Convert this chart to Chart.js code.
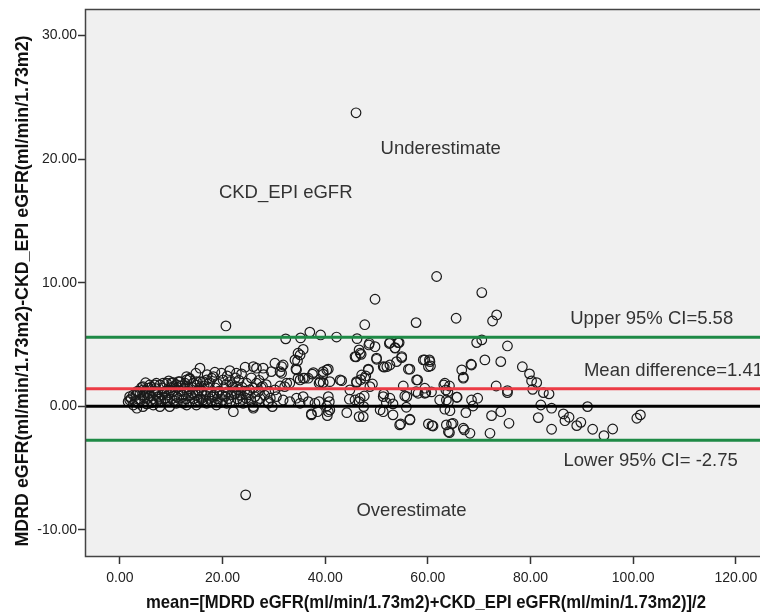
<!DOCTYPE html>
<html>
<head>
<meta charset="utf-8">
<script src="https://cdn.jsdelivr.net/npm/chart.js@4.4.1/dist/chart.umd.min.js"></script>
<style>
  html, body { margin: 0; padding: 0; background: #fff; }
  #chart { display: block; }
</style>
</head>
<body>
<canvas id="chart" width="760" height="614"></canvas>
<script>
// axis ticks
const xTicks = [0, 20, 40, 60, 80, 100, 120];
const yTicks = [-10, 0, 10, 20, 30];

const xTitle = "mean=[MDRD eGFR(ml/min/1.73m2)+CKD_EPI eGFR(ml/min/1.73m2)]/2";
const yTitle = "MDRD eGFR(ml/min/1.73m2)-CKD_EPI eGFR(ml/min/1.73m2)";

// limits of agreement
const upperLimit = 5.58;
const meanDifference = 1.41;
const zeroLine = 0;
const lowerLimit = -2.75;

// [mean, difference]
const clusterPoints = [
  [1.6,0.37],[1.9,0.78],[1.9,0.51],[2.6,0.91],[2.6,0.10],[2.2,0.62],[3.1,0.88],[3.3,1.18],[3.3,-0.16],[3.6,0.24],
  [3.5,1.22],[3.9,1.10],[3.9,0.58],[4.0,0.45],[4.2,1.52],[4.5,1.32],[4.5,1.59],[4.5,-0.03],[4.6,0.92],[5.0,1.20],
  [5.0,1.90],[5.2,0.19],[5.4,0.63],[5.5,1.46],[5.8,1.72],[5.9,0.86],[6.0,0.45],[6.1,1.55],[6.5,0.10],[6.5,0.61],
  [6.6,1.24],[6.8,1.72],[7.0,0.95],[7.1,0.37],[7.1,1.86],[7.4,1.16],[7.7,0.58],[7.8,1.72],[7.8,-0.03],[8.0,0.42],
  [8.2,0.90],[8.3,1.48],[8.4,1.86],[8.8,0.66],[8.9,1.22],[9.1,1.86],[9.1,0.37],[9.5,0.93],[9.5,2.05],[9.7,-0.03],
  [9.8,1.50],[10.1,0.60],[10.1,1.91],[10.3,1.18],[10.4,1.91],[10.6,0.46],[10.8,0.88],[11.0,0.24],[11.0,1.75],[11.2,1.52],
  [11.4,1.99],[11.5,0.64],[11.7,1.99],[11.8,1.25],[12.2,0.92],[12.2,0.44],[12.5,1.48],[12.7,1.86],[12.9,0.60],[13.0,2.13],
  [13.0,2.40],[13.0,0.10],[13.1,1.20],[13.6,2.27],[13.6,0.37],[13.6,2.19],[13.8,0.90],[14.0,1.54],[14.3,1.86],[14.4,0.62],
  [14.6,1.18],[14.8,2.67],[14.9,1.99],[14.9,0.10],[15.0,1.70],[15.1,0.94],[15.4,0.46],[15.5,1.50],[15.6,3.08],[15.6,1.99],
  [15.8,0.60],[16.0,1.22],[16.2,0.51],[16.2,1.99],[16.7,0.88],[16.9,2.13],[16.9,0.24],[17.2,1.52],[17.4,0.64],[17.7,1.16],
  [17.8,0.42],[17.9,2.27],[18.2,2.40],[18.3,0.92],[18.6,1.48],[18.8,0.37],[18.8,0.10],[19.0,1.85],[19.0,0.60],[19.3,1.22],
  [19.8,2.67],[19.9,0.90],[20.0,0.46],[20.1,2.13],[20.3,1.50],[20.8,0.24],[21.0,1.18],[21.2,0.62],[21.4,1.99],[21.4,2.88],
  [21.8,0.94],[21.9,1.75],[22.0,1.52],[22.1,-0.44],[22.6,1.20],[22.7,1.59],[22.7,2.67],[22.9,0.60],[23.2,2.10],[23.4,0.37],
  [23.5,0.88],[23.7,2.62],[23.8,1.54],[24.0,0.24],[24.3,1.22],[24.4,3.16],[24.6,0.64],[24.7,1.86],[25.0,0.92],[25.3,1.32],
  [25.5,0.46],[25.9,1.48],[26.0,3.21],[26.0,-0.03],[26.0,-0.16],[26.3,0.78],[26.6,1.86],[26.6,3.08],[27.0,1.20],[27.3,0.62],
  [27.5,1.52],[27.8,1.60],[27.9,3.08],[28.2,0.90],[28.9,0.37],[28.9,0.24],[29.0,1.20],[29.5,2.80],[29.7,-0.03],
  [3.0,0.40],[4.8,0.70],[5.6,1.05],[6.3,0.30],[6.9,1.45],[7.5,0.80],[8.6,1.10],[9.3,0.55],[9.9,1.30],[10.5,1.60],
  [11.1,0.75],[11.9,1.65],[12.4,0.25],[13.3,1.40],[14.2,1.05],[14.7,0.35],[15.3,1.25],[16.4,1.65],[16.8,0.45],[17.5,1.90],
  [18.0,0.75],[18.9,1.05],[19.6,0.30],[20.5,0.80],[20.7,1.75],[21.6,0.40],[22.3,1.00],[23.0,1.35],[23.9,0.55],[24.8,1.05],
  [25.6,2.30],[26.8,0.45],[27.1,2.10],[28.0,2.55],[28.5,1.75],[29.3,0.65],[22.5,2.30],[20.9,2.45],[18.5,2.75],[17.0,2.55]
];

const midPoints = [
  [30.2,1.32],[30.2,3.48],[30.5,0.78],[31.2,1.64],[31.2,2.80],[31.5,3.21],[31.5,2.67],[31.8,0.51],[31.8,3.34],[32.1,1.59],
  [32.3,5.45],[32.5,1.86],[33.1,1.86],[33.1,0.37],[34.1,3.75],[34.3,3.02],[34.4,0.65],[34.4,2.94],[34.6,3.67],[34.7,2.27],
  [34.7,4.29],[35.1,4.15],[35.1,0.24],[35.1,2.13],[35.2,5.53],[35.7,4.60],[35.7,2.27],[35.7,0.78],[36.0,2.27],[36.7,2.27],
  [36.7,0.37],[37.0,6.00],[37.3,-0.62],[37.3,-0.70],[37.5,2.60],[37.7,2.72],[38.0,0.24],[38.5,-0.44],[38.8,1.86],[38.8,0.37],
  [39.0,1.99],[39.1,5.77],[39.6,1.91],[39.6,2.60],[39.6,2.80],[40.3,2.94],[40.3,0.02],[40.4,-0.76],[40.6,0.78],[40.6,3.00],
  [40.6,-0.44],[40.8,0.37],[40.9,1.99],[40.9,-0.30],[42.2,5.60],[42.9,2.13],[43.2,2.07],[44.2,-0.52],[44.7,0.57],[44.8,1.32],
  [45.8,4.02],[45.8,0.51],[46.0,4.00],[46.1,1.91],[46.1,1.99],[46.2,5.47],[46.6,4.56],[46.6,0.37],[46.6,-0.84],[46.8,4.29],
  [46.8,0.65],[46.9,2.15],[47.0,4.20],[47.1,2.53],[47.4,-0.84],[47.5,-0.03],[47.6,0.83],[47.7,6.60],[47.7,2.27],[47.9,2.45],
  [48.4,3.00],[48.4,2.94],[48.5,4.96],[48.6,5.10],[48.7,1.59],[49.2,1.80],[49.7,8.66],[49.7,4.82],[50.0,3.80],[50.0,3.89],
  [50.7,-0.30],[51.3,3.21],[51.3,-0.44],[51.3,0.78],[51.4,1.00],[51.5,3.16],[51.9,0.29],[52.0,3.20],[52.5,5.08],[52.6,3.34],
  [52.6,5.15],[52.6,0.65],[53.2,0.19],[53.2,-0.70],[53.6,4.74],[53.6,4.70],[53.9,3.61],[54.2,5.15],[54.4,5.15],[54.5,-1.51],
  [54.7,-1.43],[54.9,3.93],[54.9,4.02],[55.2,1.64],[55.5,0.83],[55.8,-0.08],[55.9,0.78],[56.2,3.00],[56.5,3.00],[56.5,-1.11],
  [56.5,-1.05],[57.7,6.77],[57.7,1.18],[57.8,2.13],[58.0,2.13],[58.1,1.05],[59.1,3.75],[59.4,3.75],[59.4,1.05],[59.4,1.46],
  [59.6,1.10]
];

const rightPoints = [
  [60.1,-1.43],[60.1,3.21],[60.3,3.75],[60.4,3.61],[60.5,3.26],[60.7,1.16],[60.8,-1.57],[61.0,-1.60],[61.7,10.50],[62.3,0.51],
  [63.1,1.72],[63.3,1.86],[63.3,-0.24],[63.5,1.32],[63.6,0.51],[63.6,-1.51],[63.9,1.18],[64.0,0.37],[64.0,-2.06],[64.2,1.64],
  [64.2,-2.13],[64.3,-0.36],[64.6,-1.43],[64.9,-1.38],[65.5,7.12],[65.6,0.73],[65.7,0.73],[66.6,2.94],[66.9,2.35],[66.9,2.27],
  [66.9,-1.78],[67.1,-1.92],[67.4,-0.52],[68.2,-2.19],[68.4,3.40],[68.5,3.34],[68.5,0.51],[68.8,0.02],[69.5,5.15],[69.7,0.65],
  [70.5,9.20],[70.5,5.37],[71.1,3.75],[72.1,-2.19],[72.4,-0.76],[72.6,6.90],[73.3,1.64],[73.4,7.39],[74.2,3.61],[74.2,-0.44],
  [75.5,4.88],[75.5,1.26],[75.5,1.10],[75.8,-1.38],[78.4,3.20],[79.8,2.62],[80.2,2.05],[80.4,1.37],[81.2,1.91],[81.5,-0.92],
  [82.0,0.10],[82.5,1.10],[83.6,1.00],[84.1,-0.16],[84.1,-1.86],[86.4,-0.62],[86.7,-1.17],[87.5,-0.89],[89.0,-1.57],[89.8,-1.30],
  [91.1,-0.03],[92.1,-1.86],[94.3,-2.38],[96.0,-1.84],[100.7,-0.97],[101.4,-0.70]
];

const outlierPoints = [[46.0,23.75],[24.5,-7.17],[20.65,6.50]];

const X_MIN = -6.8, X_MAX = 124.7;
const Y_MIN = -12.12, Y_MAX = 32.15;

const tickFont = { family: "'Liberation Sans', Arial, sans-serif", size: 14 };
const titleFont = "bold 19px 'Liberation Sans', Arial, sans-serif";
const noteFont = "18.5px 'Liberation Sans', Arial, sans-serif";

function hLine(v, color) {
  return {
    data: [{ x: X_MIN, y: v }, { x: X_MAX, y: v }],
    showLine: true,
    borderColor: color,
    borderWidth: 3,
    pointRadius: 0,
  };
}

const allPoints = clusterPoints.concat(midPoints, rightPoints, outlierPoints).map((p) => ({ x: p[0], y: p[1] }));

// grey plot area with a dark frame
const framePlugin = {
  id: "frame",
  beforeDatasetsDraw(chart) {
    const { ctx, chartArea: a } = chart;
    ctx.save();
    ctx.fillStyle = "#f0f0f0";
    ctx.fillRect(a.left, a.top, a.right - a.left, a.bottom - a.top);
    ctx.restore();
  },
  afterDraw(chart) {
    const { ctx, chartArea: a } = chart;
    ctx.save();
    ctx.strokeStyle = "#444";
    ctx.lineWidth = 1.5;
    ctx.strokeRect(a.left + 0.5, a.top + 0.5, a.right - a.left + 4, a.bottom - a.top);
    ctx.restore();
  },
};

// condensed bold axis titles, squeezed to the width they take in the original
function drawSqueezed(ctx, text, cx, cy, width, rot) {
  ctx.save();
  ctx.translate(cx, cy);
  ctx.rotate(rot);
  ctx.font = titleFont;
  const w = ctx.measureText(text).width;
  ctx.scale(width / w, 1);
  ctx.textAlign = "center";
  ctx.textBaseline = "middle";
  ctx.fillStyle = "#111";
  ctx.fillText(text, 0, 0);
  ctx.restore();
}

const titlePlugin = {
  id: "titles",
  afterDraw(chart) {
    drawSqueezed(chart.ctx, xTitle, 426, 603, 560, 0);
    drawSqueezed(chart.ctx, yTitle, 23, 291, 511, -Math.PI / 2);
  },
};

// text labels inside the plot
const notesPlugin = {
  id: "notes",
  afterDatasetsDraw(chart) {
    const { ctx, scales } = chart;
    const notes = [
      ["Underestimate", 62.5, 20.8, "center"],
      ["CKD_EPI eGFR", 32.3, 17.27, "center"],
      ["Upper 95% CI=" + upperLimit.toFixed(2), 103.6, 7.07, "center"],
      ["Mean difference=" + meanDifference.toFixed(2), 90.4, 2.88, "left"],
      ["Lower 95% CI= " + lowerLimit.toFixed(2), 103.4, -4.43, "center"],
      ["Overestimate", 56.8, -8.48, "center"],
    ];
    ctx.save();
    ctx.font = noteFont;
    ctx.fillStyle = "#333";
    ctx.textBaseline = "middle";
    notes.forEach((n) => {
      ctx.textAlign = n[3];
      ctx.fillText(n[0], scales.x.getPixelForValue(n[1]), scales.y.getPixelForValue(n[2]));
    });
    ctx.restore();
  },
};

new Chart(document.getElementById("chart"), {
  type: "scatter",
  data: {
    datasets: [
      hLine(zeroLine, "#000"),
      hLine(meanDifference, "#ec3b45"),
      hLine(upperLimit, "#1e8a46"),
      hLine(lowerLimit, "#1e8a46"),
      {
        data: allPoints,
        pointRadius: 4.8,
        pointBorderWidth: 1.2,
        pointBorderColor: "#1a1a1a",
        pointBackgroundColor: "rgba(0,0,0,0)",
      },
    ],
  },
  options: {
    responsive: false,
    animation: false,
    layout: { autoPadding: false, padding: { top: 9, right: 0, left: 0, bottom: 0 } },
    plugins: { legend: { display: false }, tooltip: { enabled: false } },
    scales: {
      x: {
        type: "linear",
        min: X_MIN,
        max: X_MAX,
        afterBuildTicks: (s) => { s.ticks = xTicks.map((v) => ({ value: v })); },
        afterFit: (s) => { s.height = 58; s.paddingLeft = 0; s.paddingRight = 0; },
        grid: { drawOnChartArea: false, drawTicks: true, tickLength: 8, tickColor: "#333", tickWidth: 1.5 },
        border: { display: false },
        ticks: { font: tickFont, color: "#222", padding: 6, maxRotation: 0, callback: (v) => v.toFixed(2) },
      },
      y: {
        type: "linear",
        min: Y_MIN,
        max: Y_MAX,
        afterBuildTicks: (s) => { s.ticks = yTicks.map((v) => ({ value: v })); },
        afterFit: (s) => { s.width = 85; s.paddingTop = 0; s.paddingBottom = 0; },
        grid: { drawOnChartArea: false, drawTicks: true, tickLength: 7, tickColor: "#333", tickWidth: 1.5 },
        border: { display: false },
        ticks: { font: tickFont, color: "#222", padding: 1, callback: (v) => v.toFixed(2) },
      },
    },
  },
  plugins: [framePlugin, notesPlugin, titlePlugin],
});
</script>
</body>
</html>
